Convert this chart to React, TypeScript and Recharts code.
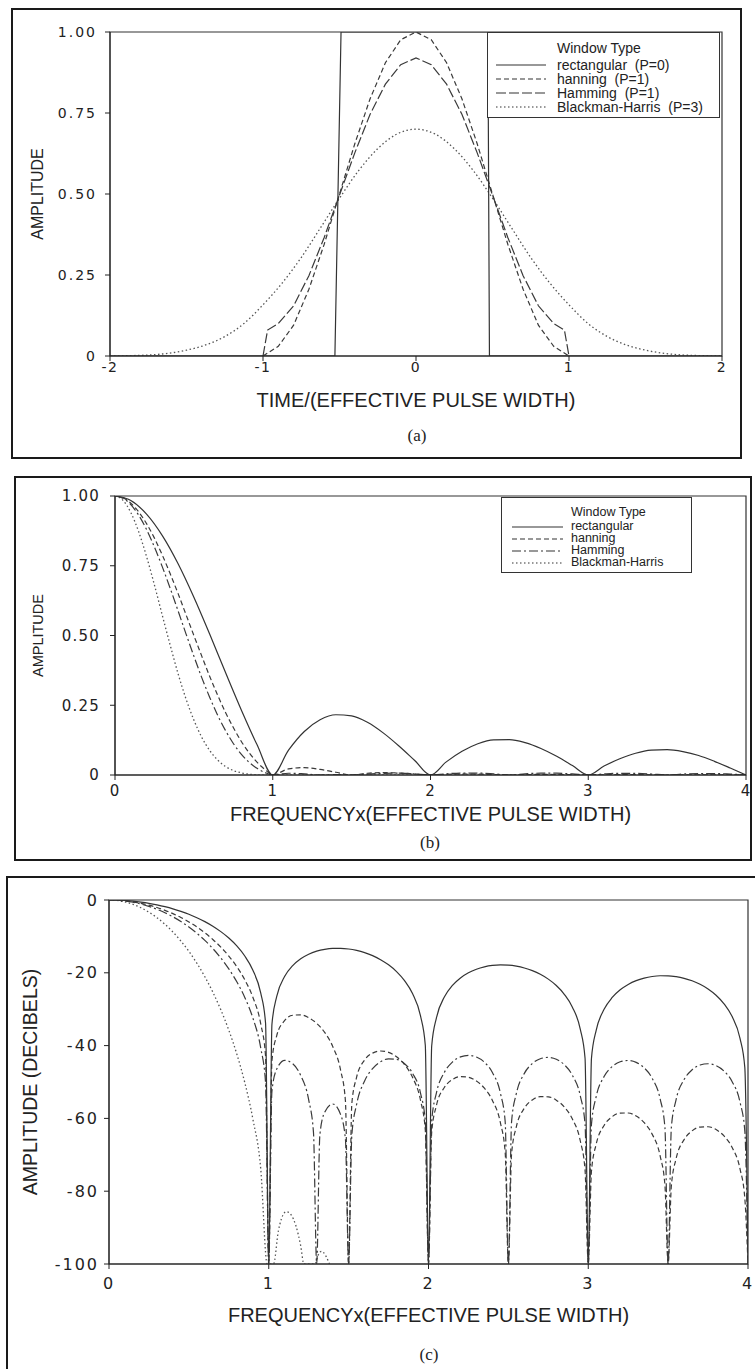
import React from "react";
import { LineChart, Line, XAxis, YAxis, Label, ReferenceArea } from "recharts";

// ---- (a) time domain windows ----
const rectTime = [-2, -0.53, -0.49, 0.47, 0.48, 2];
const rectTimeAmp = [0, 0, 1, 1, 0, 0];

const hannTime = [-1, -0.9, -0.8, -0.7, -0.6, -0.5, -0.4, -0.3, -0.2, -0.1, 0, 0.1, 0.2, 0.3, 0.4, 0.5, 0.6, 0.7, 0.8, 0.9, 1];
const hannTimeAmp = [0, 0.03, 0.095, 0.206, 0.345, 0.5, 0.655, 0.794, 0.905, 0.976, 1, 0.976, 0.905, 0.794, 0.655, 0.5, 0.345, 0.206, 0.095, 0.03, 0];

const hammTime = [-1, -0.97, -0.9, -0.8, -0.7, -0.6, -0.5, -0.4, -0.3, -0.2, -0.1, 0, 0.1, 0.2, 0.3, 0.4, 0.5, 0.6, 0.7, 0.8, 0.9, 0.97, 1];
const hammTimeAmp = [0, 0.08, 0.1, 0.155, 0.248, 0.366, 0.497, 0.627, 0.746, 0.839, 0.899, 0.92, 0.899, 0.839, 0.746, 0.627, 0.497, 0.366, 0.248, 0.155, 0.1, 0.08, 0];

const bhTime = [-2, -1.875, -1.75, -1.625, -1.5, -1.375, -1.25, -1.125, -1, -0.875, -0.75, -0.625, -0.5, -0.375, -0.25, -0.125, 0,
  0.125, 0.25, 0.375, 0.5, 0.625, 0.75, 0.875, 1, 1.125, 1.25, 1.375, 1.5, 1.625, 1.75, 1.875, 2];
const bhTimeAmp = [0, 0.001, 0.003, 0.008, 0.018, 0.034, 0.06, 0.1, 0.158, 0.225, 0.304, 0.395, 0.487, 0.572, 0.64, 0.685, 0.7,
  0.685, 0.64, 0.572, 0.487, 0.395, 0.304, 0.225, 0.158, 0.1, 0.06, 0.034, 0.018, 0.008, 0.003, 0.001, 0];

// ---- (b) amplitude spectra ----
const rectFreqB = [0, 0.1, 0.2, 0.3, 0.4, 0.5, 0.6, 0.7, 0.8, 0.9, 1, 1.1, 1.2, 1.3, 1.4, 1.5, 1.6, 1.7, 1.8, 1.9, 2,
  2.1, 2.2, 2.3, 2.4, 2.5, 2.6, 2.7, 2.8, 2.9, 3, 3.1, 3.2, 3.3, 3.4, 3.5, 3.6, 3.7, 3.8, 3.9, 4];
const rectAmpB = [1, 0.984, 0.935, 0.858, 0.757, 0.637, 0.505, 0.368, 0.234, 0.109, 0, 0.089, 0.156, 0.198, 0.216, 0.212, 0.189, 0.151, 0.104, 0.052, 0,
  0.047, 0.085, 0.112, 0.126, 0.127, 0.116, 0.095, 0.067, 0.034, 0, 0.032, 0.058, 0.078, 0.089, 0.091, 0.084, 0.07, 0.049, 0.025, 0];

const taperFreqB = [0, 0.05, 0.1, 0.15, 0.2, 0.25, 0.3, 0.35, 0.4, 0.45, 0.5, 0.55, 0.6, 0.65, 0.7, 0.75, 0.8, 0.85, 0.9, 0.95, 1,
  1.1, 1.2, 1.3, 1.4, 1.5, 1.6, 1.7, 1.8, 1.9, 2, 2.1, 2.2, 2.3, 2.4, 2.5, 2.6, 2.7, 2.8, 2.9, 3, 3.1, 3.2, 3.3, 3.4, 3.5, 3.6, 3.7, 3.8, 3.9, 4];
const hannAmpB = [1, 0.994, 0.974, 0.943, 0.901, 0.849, 0.788, 0.721, 0.65, 0.575, 0.5, 0.426, 0.354, 0.287, 0.225, 0.17, 0.121, 0.08, 0.046, 0.02, 0,
  0.022, 0.0265, 0.02, 0.0098, 0, 0.0063, 0.0084, 0.007, 0.0037, 0, 0.0027, 0.0037, 0.0033, 0.0018, 0, 0.0014, 0.002, 0.0018, 0.001, 0,
  0.0008, 0.0012, 0.0011, 0.0006, 0, 0.0005, 0.0008, 0.0007, 0.0004, 0];
const hammAmpB = [1, 0.992, 0.969, 0.931, 0.88, 0.817, 0.746, 0.669, 0.588, 0.506, 0.426, 0.349, 0.279, 0.215, 0.16, 0.113, 0.075, 0.046, 0.024, 0.009, 0,
  0.0063, 0.0039, 0, 0.0016, 0, 0.0033, 0.006, 0.0065, 0.0042, 0, 0.0043, 0.007, 0.007, 0.0043, 0, 0.0042, 0.0066, 0.0065, 0.0039, 0,
  0.0038, 0.006, 0.0059, 0.0036, 0, 0.0034, 0.0054, 0.0053, 0.0032, 0];

const bhFreqB = [0, 0.05, 0.1, 0.15, 0.2, 0.25, 0.3, 0.35, 0.4, 0.45, 0.5, 0.55, 0.6, 0.65, 0.7, 0.75, 0.8, 0.85, 0.9, 0.95, 1, 4];
const bhAmpB = [1, 0.985, 0.941, 0.872, 0.783, 0.681, 0.572, 0.465, 0.363, 0.273, 0.197, 0.135, 0.088, 0.054, 0.031, 0.016, 0.008, 0.003, 0.001, 0, 0, 0];

// ---- (c) spectra in dB ----
const rectFreqC = [0, 0.05, 0.1, 0.15, 0.2, 0.25, 0.3, 0.35, 0.4, 0.45, 0.5, 0.55, 0.6, 0.65, 0.7, 0.75, 0.8, 0.85, 0.9, 0.95, 0.98, 1,
  1.02, 1.05, 1.1, 1.15, 1.2, 1.25, 1.3, 1.35, 1.4, 1.45, 1.5, 1.55, 1.6, 1.65, 1.7, 1.75, 1.8, 1.85, 1.9, 1.95, 1.98, 2,
  2.02, 2.05, 2.1, 2.15, 2.2, 2.25, 2.3, 2.35, 2.4, 2.45, 2.5, 2.55, 2.6, 2.65, 2.7, 2.75, 2.8, 2.85, 2.9, 2.95, 2.98, 3,
  3.02, 3.05, 3.1, 3.15, 3.2, 3.25, 3.3, 3.35, 3.4, 3.45, 3.5, 3.55, 3.6, 3.65, 3.7, 3.75, 3.8, 3.85, 3.9, 3.95, 3.98, 4];
const rectDbC = [0, -0.04, -0.14, -0.32, -0.58, -0.91, -1.33, -1.83, -2.42, -3.12, -3.92, -4.86, -5.94, -7.2, -8.69, -10.45, -12.62, -15.39, -19.23, -25.61, -33.81, -100,
  -34.15, -26.48, -20.97, -18.02, -16.14, -14.89, -14.06, -13.55, -13.3, -13.28, -13.46, -13.86, -14.46, -15.29, -16.39, -17.81, -19.66, -22.15, -25.72, -31.86, -39.92, -100,
  -40.1, -32.29, -26.59, -23.45, -21.41, -20.0, -19.02, -18.37, -17.98, -17.83, -17.9, -18.18, -18.68, -19.41, -20.41, -21.74, -23.5, -25.9, -29.39, -35.45, -43.47, -100,
  -43.58, -35.74, -29.97, -26.77, -24.66, -23.19, -22.15, -21.45, -21.01, -20.81, -20.82, -21.06, -21.51, -22.19, -23.15, -24.43, -26.15, -28.51, -31.97, -37.99, -45.99, -100];

const hannFreqC = [0, 0.05, 0.1, 0.15, 0.2, 0.25, 0.3, 0.35, 0.4, 0.45, 0.5, 0.55, 0.6, 0.65, 0.7, 0.75, 0.8, 0.85, 0.9, 0.95, 0.98, 1,
  1.02, 1.05, 1.1, 1.15, 1.2, 1.25, 1.3, 1.35, 1.4, 1.45, 1.48, 1.5, 1.52, 1.55, 1.6, 1.65, 1.7, 1.75, 1.8, 1.85, 1.9, 1.95, 1.98, 2,
  2.02, 2.05, 2.1, 2.15, 2.2, 2.25, 2.3, 2.35, 2.4, 2.45, 2.48, 2.5, 2.52, 2.55, 2.6, 2.65, 2.7, 2.75, 2.8, 2.85, 2.9, 2.95, 2.98, 3,
  3.02, 3.05, 3.1, 3.15, 3.2, 3.25, 3.3, 3.35, 3.4, 3.45, 3.48, 3.5, 3.52, 3.55, 3.6, 3.65, 3.7, 3.75, 3.8, 3.85, 3.9, 3.95, 3.98, 4];
const hannDbC = [0, -0.06, -0.23, -0.51, -0.91, -1.42, -2.07, -2.84, -3.75, -4.8, -6.02, -7.42, -9.01, -10.84, -12.95, -15.4, -18.32, -21.92, -26.67, -34.05, -42.9, -100,
  -44.17, -37.24, -33.09, -31.67, -31.54, -32.31, -33.89, -36.38, -40.2, -46.79, -55.21, -100, -55.96, -48.67, -43.97, -42.06, -41.48, -41.85, -43.06, -45.22, -48.72, -55.02, -63.27, -100,
  -63.82, -56.38, -51.45, -49.31, -48.53, -48.7, -49.72, -51.71, -55.05, -61.19, -69.35, -100, -69.78, -62.26, -57.19, -54.92, -54.02, -54.07, -54.99, -56.86, -60.1, -66.14, -74.25, -100,
  -74.6, -67.03, -61.87, -59.52, -58.53, -58.51, -59.35, -61.15, -64.32, -70.29, -78.36, -100, -78.66, -71.04, -65.83, -63.42, -62.37, -62.29, -63.07, -64.82, -67.94, -73.86, -81.9, -100];

const hammFreqC = [0, 0.05, 0.1, 0.15, 0.2, 0.25, 0.3, 0.35, 0.4, 0.45, 0.5, 0.55, 0.6, 0.65, 0.7, 0.75, 0.8, 0.85, 0.9, 0.95, 0.98, 1,
  1.02, 1.05, 1.1, 1.15, 1.2, 1.25, 1.28, 1.3, 1.32, 1.35, 1.4, 1.45, 1.48, 1.5, 1.52, 1.55, 1.6, 1.65, 1.7, 1.75, 1.8, 1.85, 1.9, 1.95, 1.98, 2,
  2.02, 2.05, 2.1, 2.15, 2.2, 2.25, 2.3, 2.35, 2.4, 2.45, 2.48, 2.5, 2.52, 2.55, 2.6, 2.65, 2.7, 2.75, 2.8, 2.85, 2.9, 2.95, 2.98, 3,
  3.02, 3.05, 3.1, 3.15, 3.2, 3.25, 3.3, 3.35, 3.4, 3.45, 3.48, 3.5, 3.52, 3.55, 3.6, 3.65, 3.7, 3.75, 3.8, 3.85, 3.9, 3.95, 3.98, 4];
const hammDbC = [0, -0.07, -0.28, -0.62, -1.11, -1.75, -2.54, -3.49, -4.61, -5.91, -7.41, -9.13, -11.1, -13.34, -15.93, -18.93, -22.47, -26.78, -32.35, -40.7, -50.21, -100,
  -52.5, -46.44, -44.06, -44.97, -48.21, -54.91, -63.88, -100, -64.51, -58.32, -56.04, -58.97, -65.72, -100, -64.62, -56.13, -49.7, -46.3, -44.42, -43.62, -43.78, -44.98, -47.59, -53.05, -60.84, -100,
  -60.78, -52.91, -47.29, -44.5, -43.1, -42.67, -43.14, -44.58, -47.4, -53.03, -60.9, -100, -60.95, -53.15, -47.63, -44.93, -43.6, -43.24, -43.75, -45.24, -48.1, -53.76, -61.66, -100,
  -61.72, -53.94, -48.44, -45.75, -44.44, -44.09, -44.62, -46.11, -48.97, -54.65, -62.54, -100, -62.61, -54.83, -49.33, -46.65, -45.33, -44.98, -45.51, -47.0, -49.86, -55.54, -63.43, -100];

const bhFreqC = [0, 0.05, 0.1, 0.15, 0.2, 0.25, 0.3, 0.35, 0.4, 0.45, 0.5, 0.55, 0.6, 0.65, 0.7, 0.75, 0.8, 0.85, 0.9, 0.95, 0.99,
  1.03, 1.06, 1.08, 1.11, 1.14, 1.17, 1.2, 1.22, 1.29, 1.31, 1.33, 1.36, 1.38];
const bhDbC = [0, -0.13, -0.53, -1.19, -2.13, -3.34, -4.85, -6.66, -8.79, -11.27, -14.11, -17.37, -21.09, -25.32, -30.17, -35.77, -42.32, -50.17, -60.05, -73.94, -100,
  -100, -91, -87.5, -85.6, -86.5, -89.5, -95, -100, -100, -97.5, -96.5, -98, -100];

const unitTicks = [0, 0.25, 0.5, 0.75, 1];
const timeTicks = [-2, -1, 0, 1, 2];
const freqTicks = [0, 1, 2, 3, 4];
const dbTicks = [-100, -80, -60, -40, -20, 0];

const legendRowsA = ["rectangular  (P=0)", "hanning  (P=1)", "Hamming  (P=1)", "Blackman-Harris  (P=3)"];
const legendRowsB = ["rectangular", "hanning", "Hamming", "Blackman-Harris"];

const FONT = '"Liberation Sans", Arial, Helvetica, sans-serif';
const TICK_FONT = '"DejaVu Sans", sans-serif';
const INK = "#222";

const zip = (xs: number[], ys: number[]) => xs.map((x, i) => ({ x, y: ys[i] }));

const DASH = {
  rect: undefined as string | undefined,
  hann: "5 3",
  hammLong: "10 3",
  hammDot: "9 3 2 3",
  bh: "1.5 2.5",
};

const ampFmt = (v: number) => (v === 0 ? "0" : v.toFixed(2));

function tickStyle(size: number, spacing: number) {
  return { fill: INK, fontSize: size, fontFamily: TICK_FONT, letterSpacing: spacing };
}

function WindowLegend({ left, top, width, height, fontSize, lineH, titleY, rowYs, textX, lineX1, lineX2, rows, dashes }: any) {
  return (
    <div style={{ position: "absolute", left, top, width, height, border: "1.5px solid #333", background: "#fff", boxSizing: "border-box", fontFamily: FONT, fontSize, color: INK }}>
      <div style={{ position: "absolute", left: textX, top: titleY - lineH / 2, height: lineH, lineHeight: `${lineH}px`, whiteSpace: "pre" }}>Window Type</div>
      {rows.map((r: string, i: number) => (
        <React.Fragment key={r}>
          <svg style={{ position: "absolute", left: lineX1, top: rowYs[i] - 2 }} width={lineX2 - lineX1} height={4}>
            <line x1={0} y1={2} x2={lineX2 - lineX1} y2={2} stroke="#333" strokeWidth={1.2} strokeDasharray={dashes[i]} />
          </svg>
          <div style={{ position: "absolute", left: textX, top: rowYs[i] - lineH / 2, height: lineH, lineHeight: `${lineH}px`, whiteSpace: "pre" }}>{r}</div>
        </React.Fragment>
      ))}
    </div>
  );
}

function Caption({ text, cx, cy }: { text: string; cx: number; cy: number }) {
  return (
    <div style={{ position: "absolute", left: cx - 50, top: cy - 10, width: 100, height: 20, lineHeight: "20px", textAlign: "center", fontFamily: '"Liberation Serif", "Times New Roman", serif', fontSize: 17, color: INK }}>
      {text}
    </div>
  );
}

export default function App() {
  const frame = { position: "absolute" as const, border: "2px solid #1a1a1a", boxSizing: "border-box" as const };
  return (
    <div style={{ position: "absolute", left: 0, top: 0, width: 755, height: 1369, overflow: "hidden", background: "#fff" }}>
      {/* frames */}
      <div style={{ ...frame, left: 11, top: 8, width: 731, height: 451 }} />
      <div style={{ ...frame, left: 14, top: 476, width: 738, height: 385 }} />
      <div style={{ ...frame, left: 6, top: 876, width: 800, height: 600 }} />

      {/* (a) */}
      <div style={{ position: "absolute", left: 0, top: 0 }}>
        <LineChart width={755} height={460} margin={{ top: 32, right: 33, left: 12, bottom: 74 }}>
          <XAxis type="number" dataKey="x" domain={[-2, 2]} ticks={timeTicks} allowDataOverflow height={30}
            stroke={INK} tickSize={5} tickMargin={1} tick={tickStyle(14, 1.5)}>
            <Label value="TIME/(EFFECTIVE PULSE WIDTH)" position="bottom" offset={7} fill={INK} fontSize={20} fontFamily={FONT} />
          </XAxis>
          <YAxis type="number" domain={[0, 1]} ticks={unitTicks} width={98} allowDataOverflow
            stroke={INK} tickSize={5} tickMargin={8} tickFormatter={ampFmt} tick={tickStyle(14, 2)}>
            <Label value="AMPLITUDE" angle={-90} position="insideLeft" offset={25} fill={INK} fontSize={16} fontFamily={FONT} style={{ textAnchor: "middle" }} />
          </YAxis>
          <ReferenceArea x1={-2} x2={2} y1={0} y2={1} fill="none" fillOpacity={0} stroke="#333" strokeWidth={1.2} />
          <Line data={zip(bhTime, bhTimeAmp)} dataKey="y" type="monotone" stroke="#555" strokeWidth={1.3} strokeDasharray={DASH.bh} dot={false} isAnimationActive={false} />
          <Line data={zip(hammTime, hammTimeAmp)} dataKey="y" type="linear" stroke="#3a3a3a" strokeWidth={1.2} strokeDasharray={DASH.hammLong} dot={false} isAnimationActive={false} />
          <Line data={zip(hannTime, hannTimeAmp)} dataKey="y" type="linear" stroke="#3a3a3a" strokeWidth={1.2} strokeDasharray={DASH.hann} dot={false} isAnimationActive={false} />
          <Line data={zip(rectTime, rectTimeAmp)} dataKey="y" type="linear" stroke="#333" strokeWidth={1.2} dot={false} isAnimationActive={false} />
        </LineChart>
      </div>
      <WindowLegend left={487} top={32} width={233} height={86} fontSize={14} lineH={14} titleY={15} rowYs={[32, 46, 60, 74]}
        textX={69} lineX1={8} lineX2={58} rows={legendRowsA} dashes={[DASH.rect, DASH.hann, DASH.hammLong, DASH.bh]} />
      <Caption text="(a)" cx={417} cy={436} />

      {/* (b) */}
      <div style={{ position: "absolute", left: 0, top: 470 }}>
        <LineChart width={755} height={400} margin={{ top: 26, right: 9, left: 15, bottom: 65 }}>
          <XAxis type="number" dataKey="x" domain={[0, 4]} ticks={freqTicks} allowDataOverflow height={30}
            stroke={INK} tickSize={5} tickMargin={5} tick={tickStyle(15, 1.2)}>
            <Label value="FREQUENCYx(EFFECTIVE PULSE WIDTH)" position="bottom" offset={2} fill={INK} fontSize={20} fontFamily={FONT} />
          </XAxis>
          <YAxis type="number" domain={[0, 1]} ticks={unitTicks} width={100} allowDataOverflow
            stroke={INK} tickSize={5} tickMargin={10} tickFormatter={ampFmt} tick={tickStyle(15, 1.2)}>
            <Label value="AMPLITUDE" angle={-90} position="insideLeft" offset={23} fill={INK} fontSize={14.5} fontFamily={FONT} style={{ textAnchor: "middle" }} />
          </YAxis>
          <ReferenceArea x1={0} x2={4} y1={0} y2={1} fill="none" fillOpacity={0} stroke="#333" strokeWidth={1.2} />
          <Line data={zip(bhFreqB, bhAmpB)} dataKey="y" type="monotone" stroke="#555" strokeWidth={1.3} strokeDasharray={DASH.bh} dot={false} isAnimationActive={false} />
          <Line data={zip(taperFreqB, hammAmpB)} dataKey="y" type="monotone" stroke="#3a3a3a" strokeWidth={1.2} strokeDasharray={DASH.hammDot} dot={false} isAnimationActive={false} />
          <Line data={zip(taperFreqB, hannAmpB)} dataKey="y" type="monotone" stroke="#3a3a3a" strokeWidth={1.2} strokeDasharray={DASH.hann} dot={false} isAnimationActive={false} />
          <Line data={zip(rectFreqB, rectAmpB)} dataKey="y" type="monotone" stroke="#333" strokeWidth={1.2} dot={false} isAnimationActive={false} />
        </LineChart>
      </div>
      <WindowLegend left={501} top={497} width={191} height={76} fontSize={12.5} lineH={11.5} titleY={15} rowYs={[29, 41, 53, 65]}
        textX={69} lineX1={10} lineX2={61} rows={legendRowsB} dashes={[DASH.rect, DASH.hann, DASH.hammDot, DASH.bh]} />
      <Caption text="(b)" cx={430} cy={843} />

      {/* (c) */}
      <div style={{ position: "absolute", left: 0, top: 870 }}>
        <LineChart width={755} height={499} margin={{ top: 30, right: 7, left: 10, bottom: 75 }}>
          <XAxis type="number" dataKey="x" domain={[0, 4]} ticks={freqTicks} allowDataOverflow height={30}
            stroke={INK} tickSize={5} tickMargin={9} tick={tickStyle(16, 2)}>
            <Label value="FREQUENCYx(EFFECTIVE PULSE WIDTH)" position="bottom" offset={14} fill={INK} fontSize={20} fontFamily={FONT} />
          </XAxis>
          <YAxis type="number" domain={[-100, 0]} ticks={dbTicks} width={99} allowDataOverflow
            stroke={INK} tickSize={5} tickMargin={5} tick={tickStyle(16, 2)}>
            <Label value="AMPLITUDE (DECIBELS)" angle={-90} position="insideLeft" offset={20} fill={INK} fontSize={19.5} fontFamily={FONT} style={{ textAnchor: "middle" }} />
          </YAxis>
          <ReferenceArea x1={0} x2={4} y1={-100} y2={0} fill="none" fillOpacity={0} stroke="#333" strokeWidth={1.2} />
          <Line data={zip(bhFreqC, bhDbC)} dataKey="y" type="monotone" stroke="#555" strokeWidth={1.3} strokeDasharray={DASH.bh} dot={false} isAnimationActive={false} />
          <Line data={zip(hammFreqC, hammDbC)} dataKey="y" type="monotone" stroke="#3a3a3a" strokeWidth={1.2} strokeDasharray={DASH.hammDot} dot={false} isAnimationActive={false} />
          <Line data={zip(hannFreqC, hannDbC)} dataKey="y" type="monotone" stroke="#3a3a3a" strokeWidth={1.2} strokeDasharray={DASH.hann} dot={false} isAnimationActive={false} />
          <Line data={zip(rectFreqC, rectDbC)} dataKey="y" type="monotone" stroke="#333" strokeWidth={1.2} dot={false} isAnimationActive={false} />
        </LineChart>
      </div>
      <Caption text="(c)" cx={429} cy={1355} />
    </div>
  );
}
